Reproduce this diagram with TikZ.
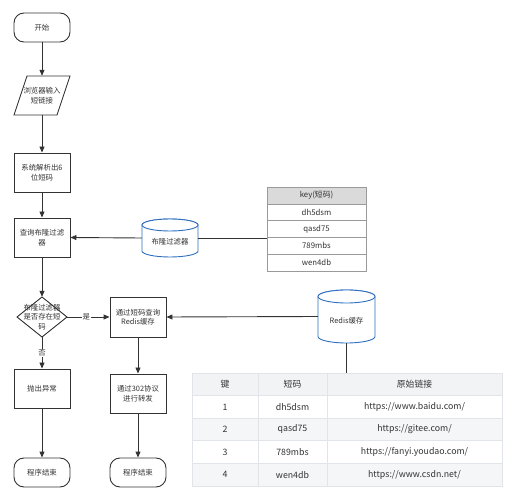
\documentclass[tikz,border=0pt]{standalone}
\usepackage{fontspec}
\setmainfont{Noto Sans CJK SC}
\usetikzlibrary{arrows.meta,shapes.geometric}
\definecolor{ln}{HTML}{333333}
\definecolor{cylblue}{HTML}{2F6FC0}
\definecolor{tb}{HTML}{E1E4E8}
\definecolor{thd}{HTML}{F2F3F5}
\definecolor{trow}{HTML}{F5F6F8}
\definecolor{kb}{HTML}{9A9A9A}
\definecolor{khd}{HTML}{DADADA}
\begin{document}
\begin{tikzpicture}[x=1pt,y=-1pt,
  ftext/.style={font=\fontsize{7.4}{9.4}\selectfont, text=ln, align=center, inner sep=0pt},
  flow/.style={ftext, draw=ln, line width=0.9pt, fill=white},
  box/.style={flow, rectangle, minimum width=56pt, minimum height=39pt},
  term/.style={flow, rectangle, rounded corners=10pt, minimum width=56pt, minimum height=29pt},
  arr/.style={draw=ln, line width=0.9pt, -{Triangle[length=6pt,width=5pt]}},
  con/.style={draw=ln, line width=0.9pt},
  shapeline/.style={draw=ln, line width=0.9pt, fill=white},
  cyl/.style={draw=cylblue, line width=0.9pt, fill=white},
  lbl/.style={ftext, fill=white, inner sep=1pt},
  kcell/.style={draw=kb, line width=0.7pt, fill=white, minimum width=99pt, minimum height=16.8pt, inner sep=0pt, font=\fontsize{7.8}{9}\selectfont, text=ln},
  tcell/.style={draw=tb, line width=0.7pt, fill=white, minimum height=22.6pt, inner sep=0pt, font=\fontsize{8.8}{10}\selectfont, text=ln},
  c1/.style={tcell, minimum width=66pt},
  c2/.style={tcell, minimum width=69pt},
  c3/.style={tcell, minimum width=175pt}
]
\useasboundingbox (0,0) rectangle (515,500);

% ---- left flow ----
\node[term] (start) at (42,27.5) {开始};
\draw[shapeline] (27,76) -- (70,76) -- (57,115) -- (14,115) -- cycle;
\node[ftext, minimum width=43pt, minimum height=39pt] (input) at (42,95.5) {浏览器输入\\短链接};
\node[box] (parse) at (42,172.5) {系统解析出6\\位短码};
\node[box] (query) at (42,237.5) {查询布隆过滤\\器};
\draw[shapeline] (42,297) -- (67,317) -- (42,337) -- (17,317) -- cycle;
\node[ftext, minimum width=50pt, minimum height=40pt] (dia) at (42,317) {布隆过滤器\\是否存在短\\码};
\node[box] (throw) at (42,388.5) {抛出异常};
\node[term] (end1) at (42,472.5) {程序结束};

% ---- middle flow ----
\node[box, minimum height=40pt] (redisq) at (138,317) {通过短码查询\\Redis缓存};
\node[box] (fwd) at (138,393.5) {通过302协议\\进行转发};
\node[term] (end2) at (138,472.5) {程序结束};

% ---- bloom filter cylinder ----
\draw[cyl] (142,225) -- (142,251) arc[start angle=180,end angle=360,x radius=28pt,y radius=6pt] -- (198,225) arc[start angle=0,end angle=180,x radius=28pt,y radius=6pt] -- cycle;
\draw[cyl] (170,225) ellipse[x radius=28pt,y radius=6pt];
\node[inner sep=0pt, minimum width=56pt, minimum height=38pt] (bloom) at (170,238) {};
\node[ftext] (bloomtxt) at (170,242) {布隆过滤器};

% ---- redis cylinder ----
\draw[cyl] (318,296.5) -- (318,336.5) arc[start angle=180,end angle=360,x radius=28.5pt,y radius=6.5pt] -- (375,296.5) arc[start angle=0,end angle=180,x radius=28.5pt,y radius=6.5pt] -- cycle;
\draw[cyl] (346.5,296.5) ellipse[x radius=28.5pt,y radius=6.5pt];
\node[inner sep=0pt, minimum width=57pt, minimum height=53pt] (redis) at (346.5,316.5) {};
\node[ftext] (redistxt) at (346.5,320.5) {Redis缓存};

% ---- key table ----
\node[kcell, fill=khd] (k0) at (316.5,195.5) {key(短码)};
\node[kcell] (k1) at (316.5,212.3) {dh5dsm};
\node[kcell] (k2) at (316.5,229.1) {qasd75};
\node[kcell] (k3) at (316.5,245.9) {789mbs};
\node[kcell] (k4) at (316.5,262.7) {wen4db};

% ---- bottom table ----
\node[c1, fill=thd] (h1) at (225,384.3) {键};
\node[c2, fill=thd] (h2) at (292.5,384.3) {短码};
\node[c3, fill=thd] (h3) at (414.5,384.3) {原始链接};
\node[c1] (a1) at (225,406.9) {1};
\node[c2] (a2) at (292.5,406.9) {dh5dsm};
\node[c3] (a3) at (414.5,406.9) {https://www.baidu.com/};
\node[c1, fill=trow] (b1) at (225,429.5) {2};
\node[c2, fill=trow] (b2) at (292.5,429.5) {qasd75};
\node[c3, fill=trow] (b3) at (414.5,429.5) {https://gitee.com/};
\node[c1] (d1) at (225,452.1) {3};
\node[c2] (d2) at (292.5,452.1) {789mbs};
\node[c3] (d3) at (414.5,452.1) {https://fanyi.youdao.com/};
\node[c1, fill=trow] (e1) at (225,474.7) {4};
\node[c2, fill=trow] (e2) at (292.5,474.7) {wen4db};
\node[c3, fill=trow] (e3) at (414.5,474.7) {https://www.csdn.net/};

% ---- connectors ----
\draw[arr] (start) -- (input);
\draw[arr] (input) -- (parse);
\draw[arr] (parse) -- (query);
\draw[arr] (bloom.west) -- (query.east);
\draw[con] (bloom.east) -- (bloom.east -| k2.west);
\draw[arr] (query) -- (dia.north);
\draw[arr] (dia.east) -- (redisq.west) node[lbl, pos=0.45] (yes) {是};
\draw[arr] (dia.south) -- (throw.north) node[lbl, pos=0.5] (no) {否};
\draw[arr] (throw) -- (end1);
\draw[arr] (redis.west) -- (redisq.east);
\draw[con] (redis.south) -- (redis.south |- h3.north);
\draw[arr] (redisq) -- (fwd);
\draw[arr] (fwd) -- (end2);
\end{tikzpicture}
\end{document}
